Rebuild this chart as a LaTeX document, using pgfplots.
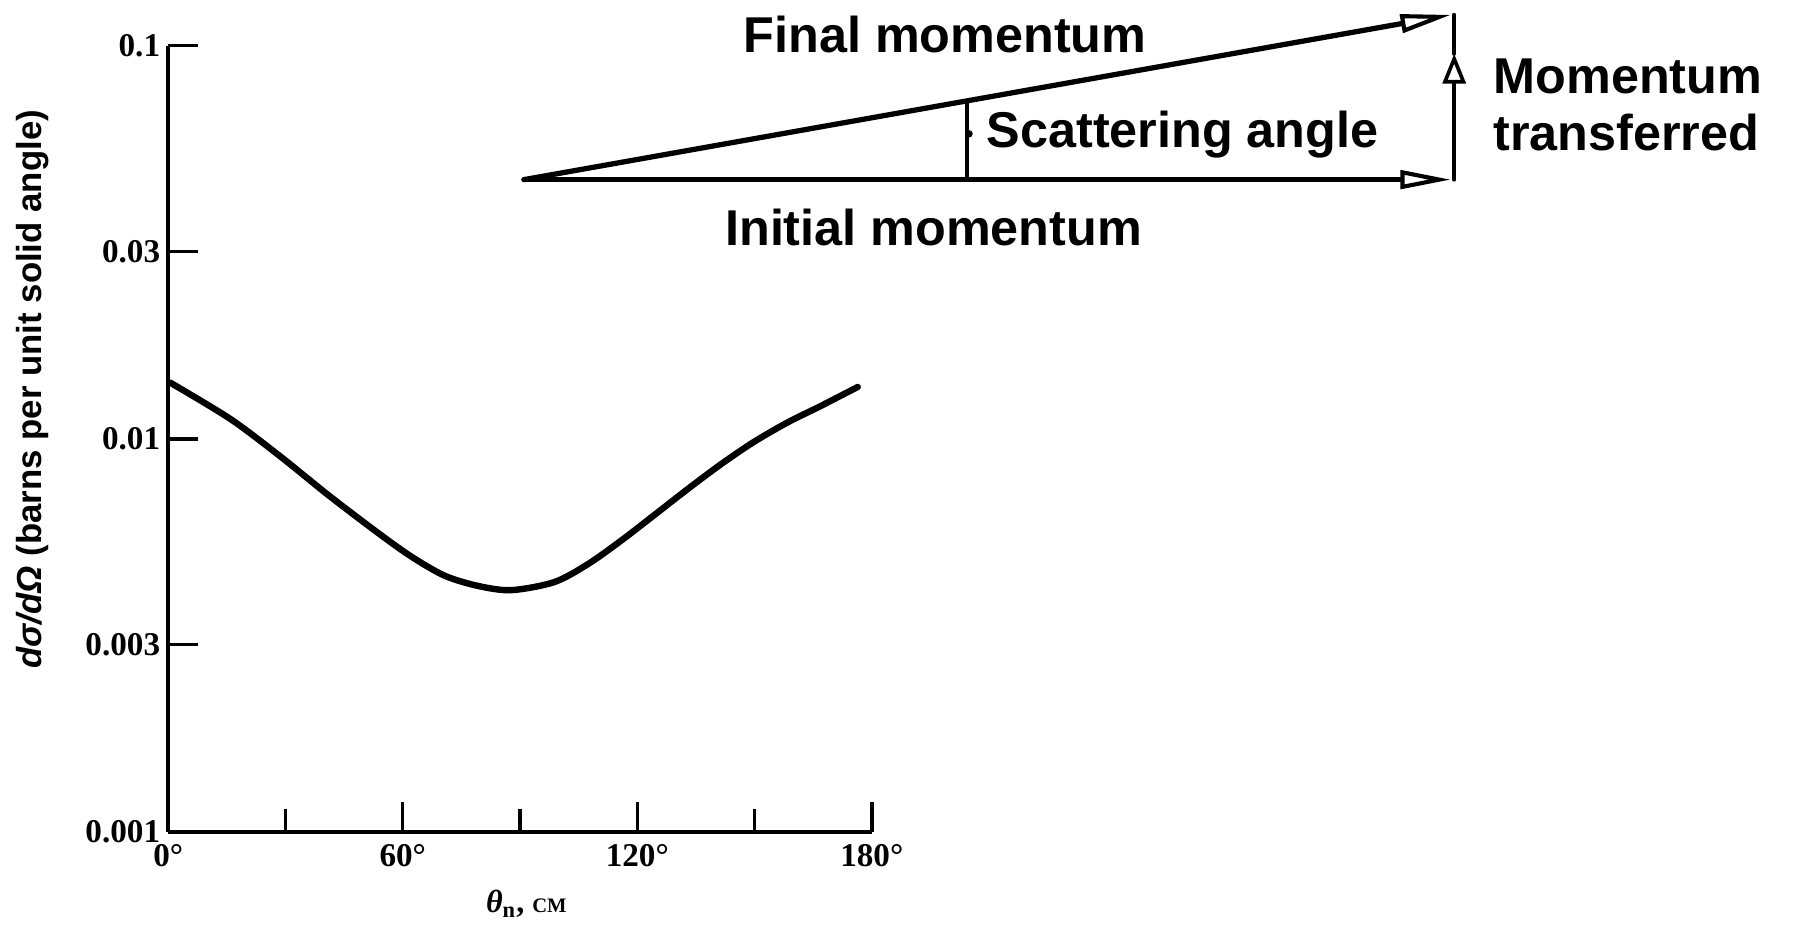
\documentclass[border=0pt]{standalone}
\usepackage{fontspec}
\setmainfont{Liberation Sans}
\newfontfamily\tickfont{Liberation Serif}
\usepackage{pgfplots}
\pgfplotsset{compat=1.18}
\usetikzlibrary{arrows.meta}
\begin{document}
\begin{tikzpicture}
\useasboundingbox (-73.5pt,-40.5pt) rectangle (710.5pt,363.5pt);
\begin{axis}[
  at={(0,0)}, anchor=south west, scale only axis,
  width=307.5pt, height=343.5pt,
  ymode=log, xmin=0, xmax=180, ymin=0.001, ymax=0.1,
  axis x line=bottom, axis y line=left,
  axis line style={line width=1.8pt, -},
  xtick={0,60,120,180}, xticklabels={0°,60°,120°,180°},
  minor xtick={30,90,150},
  ytick={0.001,0.003,0.01,0.03,0.1},
  yticklabels={0.001,0.003,0.01,0.03,0.1},
  yminorticks=false,
  tick align=inside, major tick length=13pt, minor tick length=10pt,
  tick style={line width=1.5pt, black},
  ticklabel style={font=\tickfont\bfseries\fontsize{14.5}{14.5}\selectfont},
  xticklabel style={yshift=-2pt},
  xlabel={\tickfont\bfseries\itshape θ\textsubscript{\upshape n}\upshape, {\fontsize{9}{9}\selectfont CM}},
  xlabel style={at={(axis description cs:0.509,-0.092)}, anchor=center, font=\fontsize{14}{14}\selectfont},
  ylabel={\bfseries{\itshape dσ/dΩ} (barns per unit solid angle)},
  ylabel style={at={(axis description cs:-0.193,0.563)}, anchor=center, font=\fontsize{15.2}{15.2}\selectfont},
  clip=false,
]
\addplot[line width=2.8pt, smooth, tension=0.5, line cap=round] coordinates {
  (0.5,0.0139) (15.8,0.01125) (28.5,0.00905) (41.2,0.00716) (54.0,0.00573)
  (62.4,0.00500) (70.8,0.00448) (79.4,0.00422) (87.8,0.00412) (98.8,0.00432)
  (107.4,0.00480) (115.8,0.00550) (124.2,0.00638) (132.9,0.00745)
  (141.3,0.00860) (149.7,0.00980) (158.4,0.01100) (166.8,0.01210) (176.4,0.01355)
};
\end{axis}
% momentum diagram
\begin{scope}[line width=2.3pt, line cap=round]
\draw[-{Triangle[open,length=22pt,width=8pt,line width=1.8pt]}] (155.5pt,285pt) -- (560.5pt,285pt);
\draw[-{Triangle[open,length=22pt,width=8pt,line width=1.8pt]}] (155.5pt,285pt) -- (560.5pt,357pt);
\draw[line width=1.8pt,-{Triangle[open,length=13pt,width=10pt,line width=1.6pt]}] (562pt,285pt) -- (562pt,340pt);
\draw[line width=1.8pt] (562pt,340pt) -- (562pt,357pt);
\draw[line width=1.5pt] (349pt,285pt) -- (349pt,319.4pt);
\fill (350pt,305pt) circle (1.6pt);
\end{scope}
\node[font=\bfseries\fontsize{22}{22}\selectfont] at (339.5pt,348.5pt) {Final momentum};
\node[font=\bfseries\fontsize{22}{22}\selectfont] at (334.5pt,264pt) {Initial momentum};
\node[font=\bfseries\fontsize{22}{22}\selectfont, anchor=west, inner sep=0pt] at (357.5pt,304.5pt) {Scattering angle};
\node[font=\bfseries\fontsize{22}{25}\selectfont, anchor=west, align=left, inner sep=0pt] at (579pt,317.5pt) {Momentum\\transferred};
\end{tikzpicture}
\end{document}
